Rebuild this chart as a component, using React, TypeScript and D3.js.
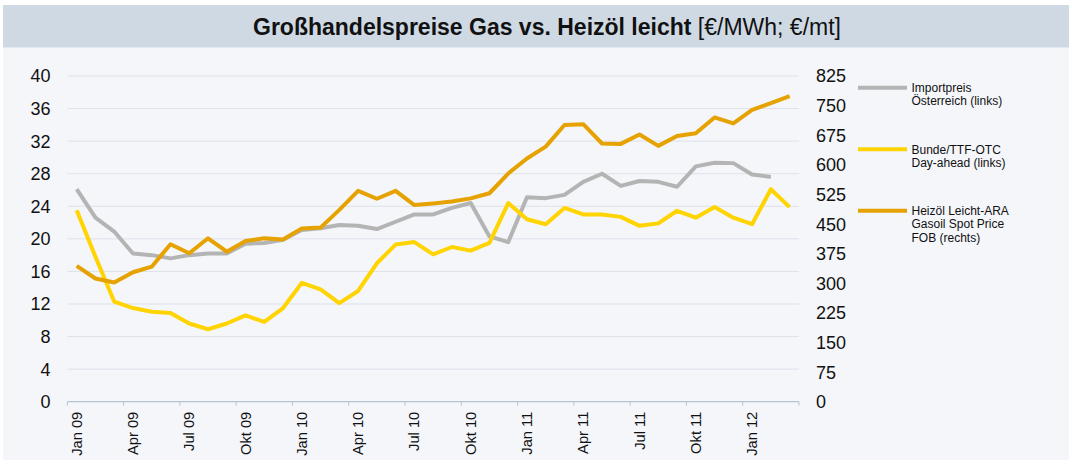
import React from "react";
import * as d3 from "d3";

const monthNames = ["Jan", "Feb", "Mär", "Apr", "Mai", "Jun", "Jul", "Aug", "Sep", "Okt", "Nov", "Dez"];
const months: string[] = [];
for (let yy = 9; yy <= 12; yy++) {
  for (let m = 0; m < 12; m++) {
    if (yy === 12 && m > 2) break;
    months.push(`${monthNames[m]} ${String(yy).padStart(2, "0")}`);
  }
}

const importpreis: (number | null)[] = [
  26.1, 22.6, 20.9, 18.2, 18.0, 17.6, 18.0, 18.2, 18.2, 19.4, 19.5, 19.9,
  21.1, 21.3, 21.7, 21.6, 21.2, 22.1, 23.0, 23.0, 23.8, 24.4, 20.3, 19.6,
  25.1, 25.0, 25.4, 27.0, 28.0, 26.5, 27.1, 27.0, 26.4, 28.9, 29.35, 29.3,
  27.9, 27.6, null,
];
const bundeTtf: number[] = [
  23.5, 17.8, 12.3, 11.5, 11.05, 10.9, 9.6, 8.9, 9.6, 10.6, 9.8, 11.5,
  14.6, 13.8, 12.1, 13.6, 17.0, 19.3, 19.6, 18.1, 19.0, 18.55, 19.5, 24.4,
  22.4, 21.8, 23.8, 23.0, 23.0, 22.7, 21.6, 21.9, 23.45, 22.6, 23.9, 22.6,
  21.8, 26.1, 23.9,
];
const heizoel: number[] = [
  344, 312, 302, 328, 342, 399, 376, 414, 380, 407, 414, 411,
  439, 441, 486, 534, 514, 534, 498, 502, 507, 515, 528, 578,
  616, 646, 701, 703, 654, 653, 677, 648, 673, 680, 720, 705,
  739, 756, 774,
];

const leftTicks = d3.range(0, 41, 4);
const rightTicks = d3.range(0, 826, 75);
const legendItems = [
  { color: "#b4b4b4", lines: ["Importpreis", "Österreich (links)"] },
  { color: "#ffd400", lines: ["Bunde/TTF-OTC", "Day-ahead (links)"] },
  { color: "#e6a200", lines: ["Heizöl Leicht-ARA", "Gasoil Spot Price", "FOB (rechts)"] },
];

const W = 1072;
const H = 464;
const plotL = 67.3;
const plotR = 799;
const plotT = 76;
const plotB = 401.7;
const font = "Liberation Sans, Arial, sans-serif";

export default function App() {
  const x = d3.scaleBand<string>().domain(months).range([plotL, plotR]).padding(0);
  const yL = d3.scaleLinear().domain([0, 40]).range([plotB, plotT]);
  const yR = d3.scaleLinear().domain([0, 825]).range([plotB, plotT]);
  const cx = (i: number) => (x(months[i]) as number) + x.bandwidth() / 2;

  const lineL = d3
    .line<number | null>()
    .defined((d) => d !== null)
    .x((_, i) => cx(i))
    .y((d) => yL(d as number));
  const lineR = d3
    .line<number>()
    .x((_, i) => cx(i))
    .y((d) => yR(d));

  const tickIdx = d3.range(0, months.length + 1, 3);
  const tickX = (i: number) => plotL + i * x.step();

  return (
    <svg
      width={W}
      height={H}
      style={{ position: "absolute", left: 0, top: 0, background: "#fff" }}
      fontFamily={font}
    >
      <rect x={3} y={5} width={1066} height={455} fill="#f4f6fa" />
      <rect x={3} y={5} width={1066} height={42.5} fill="#cfd9e4" />
      <text x={253} y={35} textAnchor="start" fontSize={23} fill="#111">
        <tspan fontWeight="bold">Großhandelspreise Gas vs. Heizöl leicht</tspan>
        <tspan> [€/MWh; €/mt]</tspan>
      </text>

      {leftTicks.map((t) =>
        t === 0 ? null : (
          <line key={"g" + t} x1={plotL} x2={plotR} y1={yL(t)} y2={yL(t)} stroke="#dde2ea" strokeWidth={1} />
        )
      )}
      <line x1={plotL} x2={plotR} y1={plotB} y2={plotB} stroke="#b9c3d0" strokeWidth={1.2} />
      {tickIdx.map((i) => (
        <line key={"t" + i} x1={tickX(i)} x2={tickX(i)} y1={plotB} y2={plotB + 4} stroke="#b9c3d0" strokeWidth={1} />
      ))}

      {leftTicks.map((t) => (
        <text key={"l" + t} x={50.5} y={yL(t)} dy="0.36em" textAnchor="end" fontSize={18} fill="#111">
          {t}
        </text>
      ))}
      {rightTicks.map((t) => (
        <text key={"r" + t} x={816} y={yR(t)} dy="0.36em" textAnchor="start" fontSize={18} fill="#111">
          {t}
        </text>
      ))}

      {months.map((m, i) =>
        i % 3 === 0 ? (
          <text
            key={"x" + m}
            transform={`translate(${cx(i) + 5},${plotB + 10}) rotate(-90)`}
            textAnchor="end"
            fontSize={14.7}
            fill="#111"
          >
            {m}
          </text>
        ) : null
      )}

      <path d={lineL(importpreis) || ""} fill="none" stroke="#b4b4b4" strokeWidth={4} strokeLinejoin="round" />
      <path d={lineL(bundeTtf) || ""} fill="none" stroke="#ffd400" strokeWidth={4} strokeLinejoin="round" />
      <path d={lineR(heizoel) || ""} fill="none" stroke="#e6a200" strokeWidth={4} strokeLinejoin="round" />

      {legendItems.map((it, k) => {
        const ly = 87.7 + k * 61.5;
        return (
          <g key={"lg" + k}>
            <line x1={858} x2={907} y1={ly} y2={ly} stroke={it.color} strokeWidth={4} />
            {it.lines.map((ln, j) => (
              <text key={j} x={911.5} y={ly + 4.3 + j * 13.4} fontSize={12} fill="#111">
                {ln}
              </text>
            ))}
          </g>
        );
      })}
    </svg>
  );
}
